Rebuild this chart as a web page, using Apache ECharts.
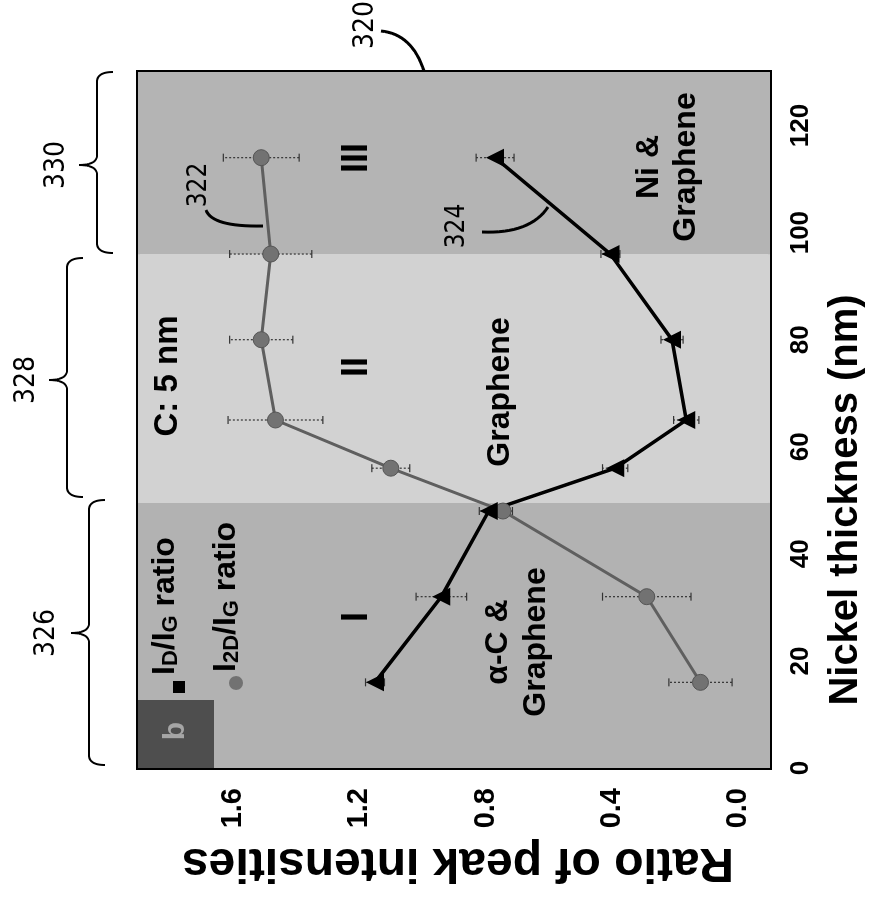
<!DOCTYPE html>
<html>
<head>
<meta charset="utf-8">
<script src="https://cdn.jsdelivr.net/npm/echarts@6/dist/echarts.min.js"></script>
<style>
  html, body { margin: 0; padding: 0; width: 886px; height: 899px; overflow: hidden; background: #fff; }
  /* the figure is drawn upright, then turned a quarter turn counter-clockwise like the reference */
  #main { position: absolute; left: 0; top: 0; width: 899px; height: 886px;
          transform-origin: 0 0; transform: translate(0px, 899px) rotate(-90deg); }
</style>
</head>
<body>
<div id="main"></div>
<script>
// ---- data ----
const thickness = [16, 32, 48, 56, 65, 80, 96, 114];           // Nickel thickness (nm)
const ratioD    = [1.15, 0.94, 0.79, 0.39, 0.165, 0.21, 0.405, 0.77];   // I_D / I_G
const errD      = [0.03, 0.08, 0.03, 0.04, 0.04, 0.035, 0.03, 0.06];
const ratio2D   = [0.12, 0.29, 0.745, 1.10, 1.465, 1.51, 1.48, 1.51];   // I_2D / I_G
const err2D     = [0.10, 0.14, 0.03, 0.06, 0.15, 0.10, 0.13, 0.12];
const regionBounds = [0, 49.5, 96, 130];
const xTicks  = [0, 10, 20, 30, 40, 50, 60, 70, 80, 90, 100, 110, 120];
const xLabels = [0, 20, 40, 60, 80, 100, 120];
const yTicks  = [0, 0.2, 0.4, 0.6, 0.8, 1.0, 1.2, 1.4, 1.6, 1.8];
const yLabels = [0, 0.4, 0.8, 1.2, 1.6];

const FONT = "'Liberation Sans', Arial, sans-serif";
const ANNO = "'DejaVu Sans Condensed', 'Liberation Sans Narrow', 'DejaVu Sans', sans-serif";
const regionColors = ['#b2b2b2', '#d2d2d2', '#b4b4b4'];

// page (screen) position -> position inside the rotated chart
const W = 899;
const at = (sx, sy) => [W - sy, sx];

function txt(text, sx, sy, size, extra) {
  const p = at(sx, sy);
  return {
    type: 'text', x: p[0], y: p[1], z: 100, silent: true,
    style: Object.assign({
      text: text, fontSize: size, fontWeight: 'bold', fontFamily: FONT, fill: '#000',
      align: 'center', verticalAlign: 'middle', textAlign: 'center', textVerticalAlign: 'middle'
    }, extra || {})
  };
}

function quad(p0, c, p1) {
  const pts = [];
  for (let i = 0; i <= 16; i++) {
    const t = i / 16, a = (1 - t) * (1 - t), b = 2 * (1 - t) * t, d = t * t;
    pts.push([a * p0[0] + b * c[0] + d * p1[0], a * p0[1] + b * c[1] + d * p1[1]]);
  }
  return pts;
}

function curve(p0, c, p1, w) {
  return { type: 'polyline', z: 100, silent: true,
    shape: { points: quad(p0, c, p1).map(p => at(p[0], p[1])) },
    style: { stroke: '#000', lineWidth: w, fill: null } };
}

function brace(sx, y1, y2, ym) {
  const h = 16, n = 18, r = 10;
  const pts = [].concat(
    quad([sx + h, y1], [sx, y1], [sx, y1 + r]),
    quad([sx, ym - r], [sx, ym], [sx - n, ym]),
    quad([sx - n, ym], [sx, ym], [sx, ym + r]),
    quad([sx, y2 - r], [sx, y2], [sx + h, y2])
  );
  return { type: 'polyline', z: 100, silent: true,
    shape: { points: pts.map(p => at(p[0], p[1])) },
    style: { stroke: '#000', lineWidth: 2, fill: null } };
}

function errBar(params, api) {
  const t = api.value(0);
  const a = api.coord([t, api.value(1)]);
  const b = api.coord([t, api.value(2)]);
  const c = 4;
  return {
    type: 'group',
    children: [
      { type: 'line', shape: { x1: a[0], y1: a[1], x2: b[0], y2: b[1] },
        style: { stroke: '#333', lineWidth: 1.2, lineDash: [2, 2] } },
      { type: 'line', shape: { x1: a[0] - c, y1: a[1], x2: a[0] + c, y2: a[1] },
        style: { stroke: '#333', lineWidth: 1.2 } },
      { type: 'line', shape: { x1: b[0] - c, y1: b[1], x2: b[0] + c, y2: b[1] },
        style: { stroke: '#333', lineWidth: 1.2 } }
    ]
  };
}

const subRich = {
  m: { fontSize: 32, fontWeight: 'bold', fontFamily: FONT, fill: '#000', lineHeight: 34 },
  s: { fontSize: 22, fontWeight: 'bold', fontFamily: FONT, fill: '#000', lineHeight: 12, verticalAlign: 'bottom' }
};

const chart = echarts.init(document.getElementById('main'));

const option = {
  animation: false,
  backgroundColor: '#fff',
  grid: { left: 131, right: 72, top: 138, bottom: 116, show: true,
          borderColor: '#000', borderWidth: 4, backgroundColor: 'transparent' },
  xAxis: {
    type: 'value', min: 0, max: 130, interval: 10,
    axisLine: { show: false }, splitLine: { show: false },
    axisTick: { show: true, inside: true, length: 8, lineStyle: { color: '#000', width: 2 }, customValues: xTicks },
    axisLabel: { customValues: xLabels, fontSize: 26, fontWeight: 'bold', fontFamily: FONT, color: '#000', margin: 18 }
  },
  yAxis: {
    type: 'value', min: -0.1, max: 1.9, interval: 0.1,
    axisLine: { show: false }, splitLine: { show: false },
    axisTick: { show: true, inside: true, length: 8, lineStyle: { color: '#000', width: 2 }, customValues: yTicks },
    axisLabel: { customValues: yLabels, formatter: v => v.toFixed(1),
                 fontSize: 29, fontWeight: 'bold', fontFamily: FONT, color: '#000', margin: 20 }
  },
  series: [
    {
      type: 'custom', name: 'err2D', silent: true, renderItem: errBar,
      encode: { x: 0, y: [1, 2] },
      data: thickness.map((t, i) => [t, ratio2D[i] - err2D[i], ratio2D[i] + err2D[i]]),
      markArea: {
        silent: true,
        data: regionColors.map((c, i) => [
          { xAxis: regionBounds[i], itemStyle: { color: c } },
          { xAxis: regionBounds[i + 1] }
        ])
      }
    },
    {
      type: 'custom', name: 'errD', silent: true, renderItem: errBar,
      encode: { x: 0, y: [1, 2] },
      data: thickness.map((t, i) => [t, ratioD[i] - errD[i], ratioD[i] + errD[i]])
    },
    {
      type: 'line', name: 'I2D/IG ratio', symbol: 'circle', symbolSize: 16,
      lineStyle: { color: '#5f5f5f', width: 3 },
      itemStyle: { color: '#727272', borderColor: '#555', borderWidth: 1 },
      data: thickness.map((t, i) => [t, ratio2D[i]])
    },
    {
      type: 'line', name: 'ID/IG ratio', symbol: 'triangle', symbolSize: 18,
      lineStyle: { color: '#000', width: 3.5 },
      itemStyle: { color: '#000' },
      data: thickness.map((t, i) => [t, ratioD[i]])
    }
  ],
  graphic: {
    elements: [
      // panel tag "b"
      (function () { const p = at(138, 768); return { type: 'rect', z: 99, silent: true,
        shape: { x: p[0], y: p[1], width: 68, height: 76 }, style: { fill: '#4e4e4e' } }; })(),
      txt('b', 176, 731, 30, { fill: '#a5a5a5' }),
      // legend
      (function () { const p = at(179, 687); return { type: 'rect', z: 100, silent: true,
        shape: { x: p[0] - 6, y: p[1] - 6, width: 12, height: 12 }, style: { fill: '#000' } }; })(),
      (function () { const p = at(236, 683); return { type: 'circle', z: 100, silent: true,
        shape: { cx: p[0], cy: p[1], r: 7 }, style: { fill: '#727272' } }; })(),
      txt('{m|I}{s|D}{m|/I}{s|G}{m| ratio}', 165, 675, 32,
          { align: 'left', textAlign: 'left', rich: subRich }),
      txt('{m|I}{s|2D}{m|/I}{s|G}{m| ratio}', 226, 672, 32,
          { align: 'left', textAlign: 'left', rich: subRich }),
      // in-plot notes
      txt('C: 5 nm', 168, 376, 33),
      txt('I', 357, 617, 36),
      txt('II', 357, 367, 36),
      txt('III', 357, 158, 36),
      txt('Graphene', 500, 392, 32),
      txt('\u03b1-C &\nGraphene', 517, 642, 32, { lineHeight: 38 }),
      txt('Ni &\nGraphene', 668, 167, 32, { lineHeight: 37 }),
      txt('322', 199, 185, 26, { fontWeight: 'normal', fontFamily: ANNO }),
      txt('324', 457, 226, 26, { fontWeight: 'normal', fontFamily: ANNO }),
      curve([206, 210], [212, 227], [263, 226], 3),
      curve([482, 232], [530, 234], [548, 207], 3),
      // outside reference marks
      txt('320', 366, 25, 28, { fontWeight: 'normal', fontFamily: ANNO }),
      curve([381, 31], [412, 34], [424, 71], 3),
      brace(97, 72, 253, 165),
      brace(67, 258, 497, 380),
      brace(89, 500, 765, 633),
      txt('330', 57, 165, 28, { fontWeight: 'normal', fontFamily: ANNO }),
      txt('328', 27, 380, 28, { fontWeight: 'normal', fontFamily: ANNO }),
      txt('326', 47, 633, 28, { fontWeight: 'normal', fontFamily: ANNO }),
      // axis titles
      txt('Nickel thickness (nm)', 846, 500, 40),
      (function () { const e = txt('Ratio of peak intensities', 458, 862, 48); e.rotation = Math.PI / 2; return e; })()
    ]
  }
};

chart.setOption(option);
</script>
</body>
</html>
